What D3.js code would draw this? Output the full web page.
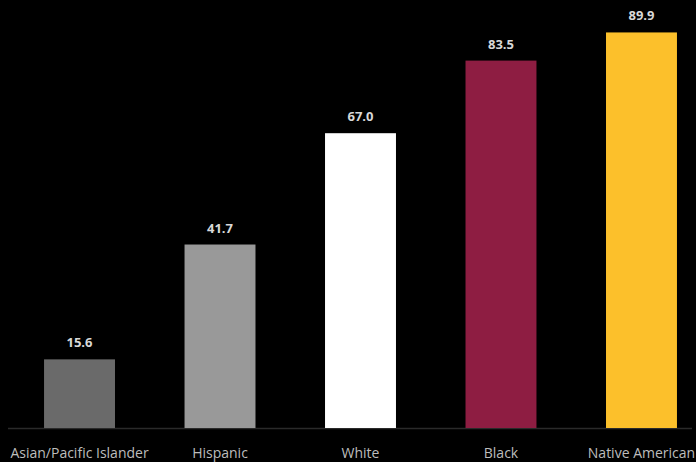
<!DOCTYPE html>
<html>
<head>
<meta charset="utf-8">
<script src="https://cdn.jsdelivr.net/npm/d3@7"></script>
<style>
  html, body { margin: 0; padding: 0; background: #000; }
  svg { display: block; }
</style>
</head>
<body>
<svg id="chart" width="696" height="462"></svg>
<script>
// Rate per group
const categories = ["Asian/Pacific Islander", "Hispanic", "White", "Black", "Native American"];
const values = [15.6, 41.7, 67.0, 83.5, 89.9];
const valueLabels = ["15.6", "41.7", "67.0", "83.5", "89.9"];
const barColors = ["#6a6a6a", "#999999", "#ffffff", "#8e1d42", "#fcc02b"];

const width = 696, height = 462;
const baseY = 428;

const svg = d3.select("#chart");

const x = d3.scaleBand()
  .domain(categories)
  .range([-25.5, 746.5])
  .padding(0.495);

const y = d3.scaleLinear()
  .domain([0, 100])
  .range([baseY, baseY - 440]);

// baseline
svg.append("line")
  .attr("x1", 8).attr("x2", 692)
  .attr("y1", baseY + 0.5).attr("y2", baseY + 0.5)
  .attr("stroke", "#2a2a2a")
  .attr("stroke-width", 1.5);

// bars
svg.selectAll("rect.bar")
  .data(values)
  .join("rect")
  .attr("class", "bar")
  .attr("x", (d, i) => x(categories[i]))
  .attr("width", x.bandwidth())
  .attr("y", d => y(d))
  .attr("height", d => y(0) - y(d))
  .attr("fill", (d, i) => barColors[i]);

const font = "'Liberation Sans Narrow', 'Arial Narrow', 'Open Sans', sans-serif";

// value labels
svg.selectAll("text.val")
  .data(values)
  .join("text")
  .attr("class", "val")
  .attr("x", (d, i) => x(categories[i]) + x.bandwidth() / 2)
  .attr("y", d => y(d) - 12)
  .attr("text-anchor", "middle")
  .attr("fill", "#d8d8d8")
  .attr("font-family", font)
  .attr("font-weight", "bold")
  .attr("font-size", 13)
  .text((d, i) => valueLabels[i]);

// category labels
const xAxis = d3.axisBottom(x).tickSize(0).tickPadding(0);
const gx = svg.append("g")
  .attr("transform", `translate(0,${baseY})`)
  .call(xAxis);
gx.select(".domain").remove();
gx.selectAll("text")
  .attr("y", 30)
  .attr("dy", 0)
  .attr("fill", "#bdbdbd")
  .attr("font-family", font)
  .attr("font-size", 14);
</script>
</body>
</html>
